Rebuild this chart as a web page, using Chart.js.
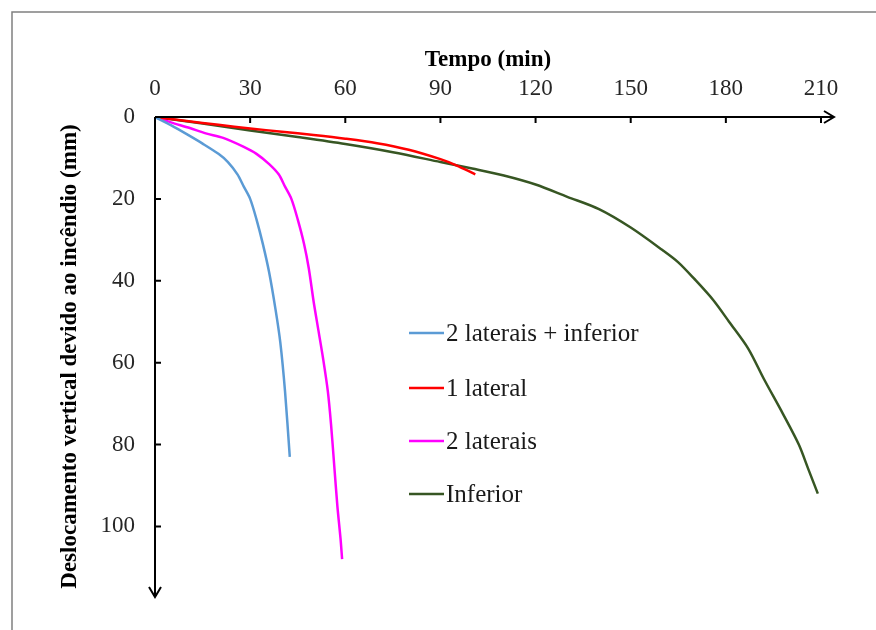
<!DOCTYPE html>
<html lang="pt">
<head>
  <meta charset="UTF-8">
  <title>Deslocamento vertical devido ao incêndio</title>
  <script src="https://cdn.jsdelivr.net/npm/chart.js@4.4.1/dist/chart.umd.min.js"></script>
  <style>
    html, body { margin: 0; padding: 0; background: #fff; }
    #wrap { width: 876px; height: 630px; }
  </style>
</head>
<body>
  <div id="wrap"><canvas id="myChart" width="876" height="630"></canvas></div>
  <script>
    // series: [tempo (min), deslocamento (mm)]
    const seriesNames = ['2 laterais + inferior', '1 lateral', '2 laterais', 'Inferior'];
    const seriesColors = ['#5b9bd5', '#ff0000', '#ff00ff', '#375623'];

    const tempoLatInf = [0, 5, 10, 15, 20, 23, 26, 28, 30, 32, 34, 36, 38, 39.5, 41, 42.5];
    const deslLatInf  = [0, 2, 4.2, 6.5, 9, 11, 14, 17, 20, 25, 31, 38, 47, 55, 67, 83];

    const tempo1Lat = [0, 10, 20, 30, 40, 50, 60, 70, 80, 90, 95, 101];
    const desl1Lat  = [0, 1, 1.9, 2.8, 3.6, 4.4, 5.3, 6.4, 8, 10.3, 11.8, 14];

    const tempo2Lat = [0, 5, 11, 16, 21.5, 28, 32, 36, 39, 41, 43, 45, 47, 48.5, 50, 51.5, 53, 54.5, 55.5, 56.5, 57.5, 58.5, 59];
    const desl2Lat  = [0, 1.3, 2.7, 4, 5.1, 7.3, 9, 11.5, 14, 17, 20, 25, 31, 37, 45, 52, 59, 67, 75, 85, 95, 103, 108];

    const tempoInf = [0, 15, 30, 45, 60, 75, 90, 100, 110, 120, 130, 140, 150, 160, 165, 170, 176, 181, 187, 192, 198, 203, 206, 209];
    const deslInf  = [0, 1.6, 3.3, 4.9, 6.6, 8.6, 11, 12.6, 14.3, 16.5, 19.5, 22.5, 27, 32.5, 35.5, 39.5, 44.7, 50, 56.5, 64, 72.5, 80, 86, 92];

    const xTicks = [0, 30, 60, 90, 120, 150, 180, 210];
    const yTicks = [0, 20, 40, 60, 80, 100];

    const tempos = [tempoLatInf, tempo1Lat, tempo2Lat, tempoInf];
    const desls = [deslLatInf, desl1Lat, desl2Lat, deslInf];

    const serif = '"Liberation Serif", "Times New Roman", serif';

    // axes with arrows, inner ticks, frame and legend
    const axesPlugin = {
      id: 'axesPlugin',
      afterDraw(chart) {
        const ctx = chart.ctx;
        const xs = chart.scales.x, ys = chart.scales.y;
        const x0 = xs.getPixelForValue(0), y0 = ys.getPixelForValue(0);
        const xEnd = 834, yEnd = 597;
        ctx.save();
        // frame (top and left only visible)
        ctx.strokeStyle = '#808080';
        ctx.lineWidth = 1.5;
        ctx.beginPath();
        ctx.moveTo(12, 640); ctx.lineTo(12, 12); ctx.lineTo(880, 12);
        ctx.stroke();
        // axes
        ctx.strokeStyle = '#000';
        ctx.lineWidth = 2;
        ctx.beginPath();
        ctx.moveTo(x0, y0); ctx.lineTo(xEnd, y0);
        ctx.moveTo(x0, y0); ctx.lineTo(x0, yEnd);
        ctx.stroke();
        // arrows
        ctx.beginPath();
        ctx.moveTo(xEnd - 10, y0 - 6); ctx.lineTo(xEnd, y0); ctx.lineTo(xEnd - 10, y0 + 6);
        ctx.moveTo(x0 - 6, yEnd - 10); ctx.lineTo(x0, yEnd); ctx.lineTo(x0 + 6, yEnd - 10);
        ctx.stroke();
        // ticks pointing inward
        ctx.beginPath();
        xTicks.slice(1).forEach(v => {
          const p = xs.getPixelForValue(v);
          ctx.moveTo(p, y0); ctx.lineTo(p, y0 + 6);
        });
        yTicks.slice(1).forEach(v => {
          const p = ys.getPixelForValue(v);
          ctx.moveTo(x0, p); ctx.lineTo(x0 + 6, p);
        });
        ctx.stroke();
        // legend
        ctx.font = '25px ' + serif;
        ctx.textBaseline = 'middle';
        const legY = [334, 389, 442, 495];
        seriesNames.forEach((name, i) => {
          ctx.strokeStyle = seriesColors[i];
          ctx.lineWidth = 2.5;
          ctx.beginPath();
          ctx.moveTo(409, legY[i] - 1); ctx.lineTo(444, legY[i] - 1);
          ctx.stroke();
          ctx.fillStyle = '#1a1a1a';
          ctx.fillText(name, 446, legY[i]);
        });
        ctx.restore();
      }
    };

    const ctx = document.getElementById('myChart').getContext('2d');
    const myChart = new Chart(ctx, {
      type: 'scatter',
      data: {
        datasets: seriesNames.map((name, i) => ({
          label: name,
          data: tempos[i].map((t, j) => ({x: t, y: desls[i][j]})),
          showLine: true,
          borderColor: seriesColors[i],
          backgroundColor: seriesColors[i],
          borderWidth: 2.5,
          pointRadius: 0,
          tension: 0.3
        }))
      },
      options: {
        responsive: false,
        animation: false,
        layout: { padding: { left: 0, right: 55, top: 0, bottom: 34 } },
        plugins: { legend: { display: false }, tooltip: { enabled: false } },
        scales: {
          x: {
            type: 'linear',
            position: 'top',
            min: 0,
            max: 210,
            grid: { display: false, drawTicks: false },
            border: { display: false },
            afterBuildTicks: s => { s.ticks = xTicks.map(v => ({value: v})); },
            afterFit: s => { s.height = 117; },
            ticks: {
              padding: 14,
              color: '#262626',
              font: { family: serif, size: 23 }
            },
            title: {
              display: true,
              text: 'Tempo (min)',
              color: '#000',
              padding: { top: 46, bottom: 0 },
              font: { family: serif, size: 23, weight: 'bold' }
            }
          },
          y: {
            type: 'linear',
            reverse: true,
            min: 0,
            max: 117,
            grid: { display: false, drawTicks: false },
            border: { display: false },
            afterBuildTicks: s => { s.ticks = yTicks.map(v => ({value: v})); },
            afterFit: s => { s.width = 155; },
            ticks: {
              padding: 20,
              color: '#262626',
              font: { family: serif, size: 23 }
            },
            title: {
              display: true,
              text: 'Deslocamento vertical devido ao incêndio (mm)',
              color: '#000',
              padding: { top: 56, bottom: 0 },
              font: { family: serif, size: 23, weight: 'bold' }
            }
          }
        }
      },
      plugins: [axesPlugin]
    });
  </script>
</body>
</html>
